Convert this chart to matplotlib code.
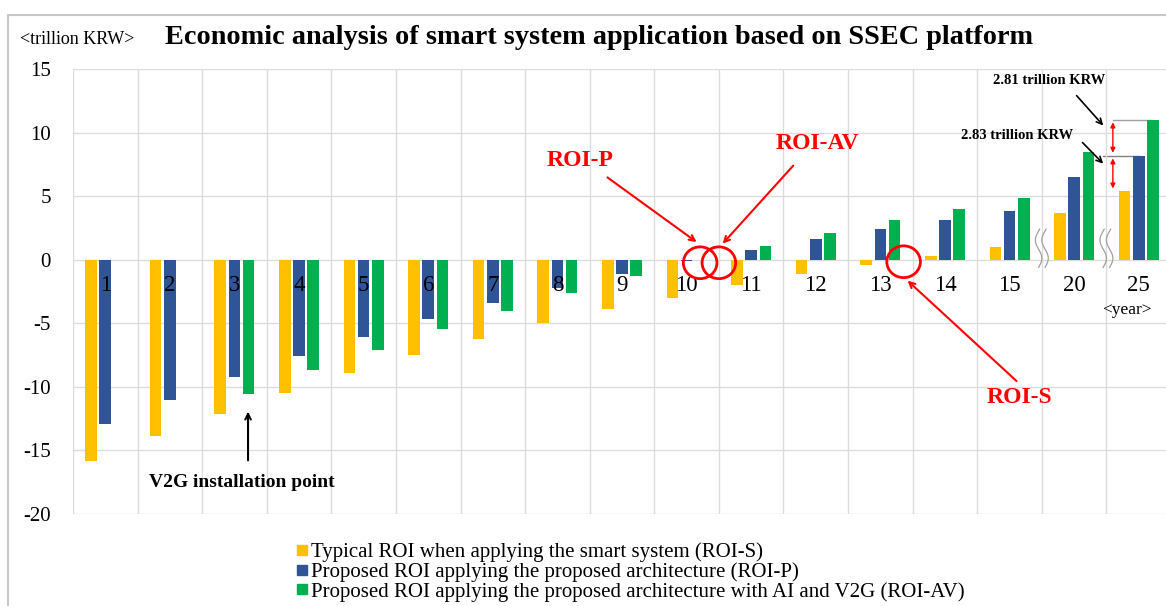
import numpy as np
import matplotlib.pyplot as plt
from matplotlib.patches import Ellipse, Rectangle
from matplotlib.lines import Line2D

# data (trillion KRW)
years = ['1', '2', '3', '4', '5', '6', '7', '8', '9', '10', '11', '12', '13', '14', '15', '20', '25']
roi_s = [-15.8, -13.9, -12.1, -10.5, -8.9, -7.5, -6.2, -5.0, -3.9, -3.0, -2.0, -1.15, -0.4, 0.3, 1.0, 3.65, 5.38]
roi_p = [-12.95, -11.05, -9.25, -7.6, -6.1, -4.7, -3.4, -2.25, -1.1, -0.08, 0.8, 1.65, 2.45, 3.15, 3.85, 6.5, 8.19]
roi_av = [np.nan, np.nan, -10.55, -8.7, -7.1, -5.45, -4.0, -2.65, -1.3, -0.05, 1.05, 2.1, 3.1, 4.0, 4.85, 8.45, 11.02]
labels = ['Typical ROI when applying the smart system (ROI-S)',
          'Proposed ROI applying the proposed architecture (ROI-P)',
          'Proposed ROI applying the proposed architecture with AI and V2G (ROI-AV)']
colors = ['#FFC000', '#2F5597', '#00B050']

plt.rcParams['font.family'] = ['Liberation Serif', 'DejaVu Serif']
plt.rcParams['axes.unicode_minus'] = False

fig = plt.figure(figsize=(11.66, 6.06), dpi=100)
ax = fig.add_axes([73/1166, 92/606, 1098/1166, 445/606])

x = np.arange(len(years))
w = 0.18
for off, vals, c, lab in zip([-0.22, 0, 0.22], [roi_s, roi_p, roi_av], colors, labels):
    ax.bar(x + off, vals, w, color=c, label=lab, zorder=2)

ax.set_xlim(-0.5, len(years) - 0.5)
ax.set_ylim(-20, 15)
ax.set_yticks(np.arange(-20, 16, 5))
ax.set_xticks([])
ax.set_xticks(np.arange(-0.5, len(years), 1), minor=True)
ax.grid(True, which='major', axis='y', color='#dcdcdc', lw=1, zorder=0)
ax.grid(True, which='minor', axis='x', color='#dcdcdc', lw=1, zorder=0)
ax.tick_params(axis='y', length=0, labelsize=15, pad=16)
ax.tick_params(axis='x', which='both', length=0)
for s in ax.spines.values():
    s.set_visible(False)

# year labels inside plot
for xi, yr in zip(x, years):
    ax.text(xi, -2.0, yr, ha='center', va='center', fontsize=16.5, zorder=3)
ax.text(15.82, -3.94, '<year>', ha='center', va='center', fontsize=12.5)

# titles
fig.text(20/1166, 1 - 40/606, '<trillion KRW>', fontsize=13, va='center', ha='left')
fig.text(165/1166, 1 - 38/606, 'Economic analysis of smart system application based on SSEC platform',
         fontsize=20.3, fontweight='bold', va='center', ha='left')

red = '#FF0000'
# circles
for cx in [9.21, 9.5]:
    ax.add_patch(Ellipse((cx, -0.24), 0.52, 2.5, fill=False, ec=red, lw=2, zorder=4))
ax.add_patch(Ellipse((12.36, -0.16), 0.52, 2.5, fill=False, ec=red, lw=2, zorder=4))

ax.text(7.35, 7.8, 'ROI-P', color=red, fontsize=17, fontweight='bold', ha='center', va='center')
ax.annotate('', xy=(9.19, 1.26), xytext=(7.74, 6.6),
            arrowprops=dict(arrowstyle='->', color=red, lw=1.5))
ax.text(11.02, 9.13, 'ROI-AV', color=red, fontsize=17, fontweight='bold', ha='center', va='center')
ax.annotate('', xy=(9.53, 1.1), xytext=(10.68, 7.56),
            arrowprops=dict(arrowstyle='->', color=red, lw=1.5))
ax.text(14.16, -10.87, 'ROI-S', color=red, fontsize=17, fontweight='bold', ha='center', va='center')
ax.annotate('', xy=(12.39, -1.5), xytext=(14.14, -9.69),
            arrowprops=dict(arrowstyle='->', color=red, lw=1.5))

# V2G
ax.annotate('', xy=(2.21, -11.73), xytext=(2.21, -16.0),
            arrowprops=dict(arrowstyle='->', color='black', lw=1.5))
ax.text(2.12, -17.5, 'V2G installation point', fontsize=14, fontweight='bold', ha='center', va='center')

# differences at year 25
ax.text(14.62, 14.1, '2.81 trillion KRW', fontsize=10.5, fontweight='bold', ha='center', va='center')
ax.annotate('', xy=(15.48, 10.39), xytext=(15.01, 13.07),
            arrowprops=dict(arrowstyle='->', color='black', lw=1.2))
ax.text(14.11, 9.76, '2.83 trillion KRW', fontsize=10.5, fontweight='bold', ha='center', va='center')
ax.annotate('', xy=(15.48, 7.4), xytext=(15.1, 9.37),
            arrowprops=dict(arrowstyle='->', color='black', lw=1.2))
ax.plot([15.6, 16.2], [roi_av[-1], roi_av[-1]], color='#a0a0a0', lw=1, zorder=1)
ax.plot([15.45, 16.0], [roi_p[-1], roi_p[-1]], color='#808080', lw=1, zorder=1)
ax.annotate('', xy=(15.6, roi_av[-1]), xytext=(15.6, roi_p[-1]),
            arrowprops=dict(arrowstyle='<|-|>', color=red, lw=1, mutation_scale=7))
ax.annotate('', xy=(15.6, roi_p[-1]), xytext=(15.6, roi_s[-1]),
            arrowprops=dict(arrowstyle='<|-|>', color=red, lw=1, mutation_scale=7))

# axis break marks
t = np.linspace(-0.6, 2.4, 60)
for bx in [14.5, 15.5]:
    for d in [-0.05, 0.05]:
        ax.plot(bx + d + 0.05 * np.sin((t + 0.6) * 2.2), t, color='#a0a0a0', lw=0.9, zorder=3)

# legend
handles = [Line2D([], [], marker='s', ls='', color=c, markersize=7) for c in colors]
fig.legend(handles, labels, loc='upper left', bbox_to_anchor=(286/1166, 1 - 532/606),
           frameon=False, fontsize=15, handlelength=0.5, handletextpad=0.2,
           labelspacing=0.0, borderpad=0)

# outer frame
fig.patches.append(Rectangle((8/1166, -0.05), 1.2, 1 - 15/606 + 0.05, transform=fig.transFigure,
                             fill=False, ec='#c8c8c8', lw=1.5))

fig.savefig('out.png', dpi=100)
